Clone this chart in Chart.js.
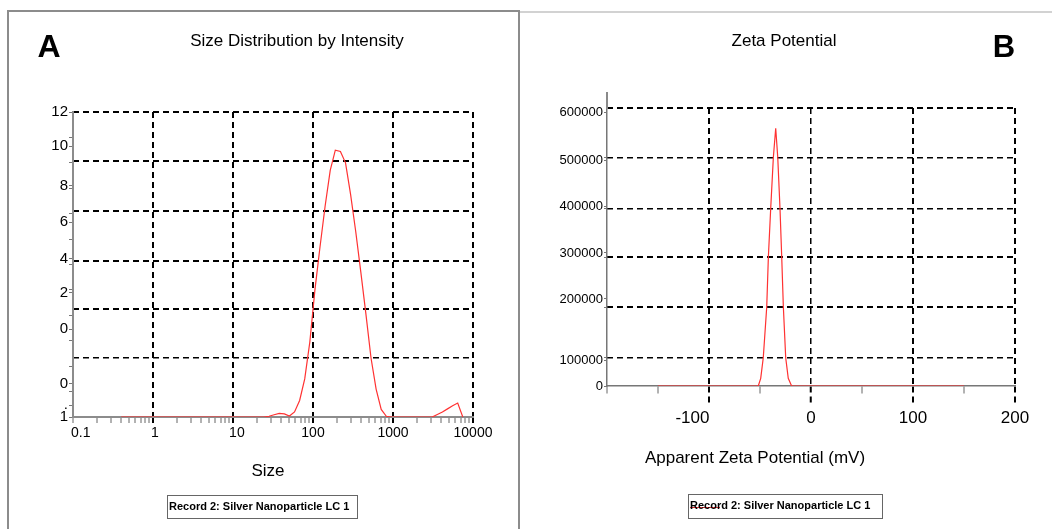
<!DOCTYPE html>
<html>
<head>
<meta charset="utf-8">
<script src="https://cdn.jsdelivr.net/npm/chart.js@4.4.1/dist/chart.umd.min.js"></script>
<style>
body { margin: 0; background: #fff; font-family: "Liberation Sans", Arial, sans-serif; }
#page { position: relative; width: 1052px; height: 529px; overflow: hidden; }
canvas { position: absolute; top: 0; }
#chartA { left: 0; }
#chartB { left: 520px; }
.txt { position: absolute; transform: translate(-50%, -50%); line-height: 1; white-space: nowrap; color: #000; }
.letter { font-weight: bold; }
#frameA { position: absolute; left: 7px; top: 10px; width: 513px; height: 540px; box-sizing: border-box; border: 2px solid #8c8c8c; }
#lineB { position: absolute; left: 520px; top: 11px; width: 532px; height: 2px; background: #d2d2d2; }
#axisTopB { position: absolute; left: 606px; top: 92px; width: 2px; height: 17px; background: #8a8a8a; }
.legend { position: absolute; box-sizing: border-box; border: 1.5px solid #666; font-weight: bold; font-size: 11px; }
.legend span { position: absolute; left: 1px; transform: translateY(-50%); line-height: 1; white-space: nowrap; }
.legend i { position: absolute; left: 1px; width: 30px; height: 1px; background: #e03030; }
</style>
</head>
<body>
<div id="page">
  <div id="frameA"></div>
  <div id="lineB"></div>
  <canvas id="chartA" width="520" height="529"></canvas>
  <canvas id="chartB" width="532" height="529"></canvas>
  <div id="axisTopB"></div>

  <div class="txt letter" style="left:49px; top:46px; font-size:32px;">A</div>
  <div class="txt letter" style="left:1004px; top:46px; font-size:31px;">B</div>
  <div class="txt" style="left:297px; top:40px; font-size:17px;">Size Distribution by Intensity</div>
  <div class="txt" style="left:784px; top:40px; font-size:17px;">Zeta Potential</div>
  <div class="txt" style="left:268px; top:470px; font-size:17px;">Size</div>
  <div class="txt" style="left:755px; top:457px; font-size:17px;">Apparent Zeta Potential (mV)</div>

  <div class="legend" style="left:167px; top:495px; width:191px; height:24px;">
    <span style="top:10px;">Record 2: Silver Nanoparticle LC 1</span>
  </div>
  <div class="legend" style="left:688px; top:494px; width:195px; height:25px;">
    <i style="top:12px;"></i>
    <span style="top:10px;">Record 2: Silver Nanoparticle LC 1</span>
  </div>
</div>

<script>
Chart.defaults.font.family = '"Liberation Sans", Arial, sans-serif';
Chart.defaults.color = "#000";

var curveColor = "rgba(255, 50, 50, 1)";
var axisColor = "#8c8c8c";
var gridColor = "#000";
var hidden = "rgba(0,0,0,0)";

//////////////////////////// A : size distribution ////////////////////////////
// size classes (nm) and intensity (%)
var sizeNm = [0.4, 24.36, 28.21, 32.67, 37.84, 43.82, 50.75, 58.77, 68.06, 78.82, 91.28,
  105.7, 122.4, 141.8, 164.2, 190.1, 220.2, 255.0, 295.3, 342.0, 396.1, 458.7, 531.2,
  615.1, 712.4, 825.0, 955.4, 3091, 3580, 4145, 4801, 5560, 6439, 7456];
var intensityPct = [0, 0, 0.03, 0.09, 0.14, 0.12, 0.04, 0.2, 0.65, 1.5, 2.95,
  5.0, 6.7, 8.3, 9.7, 10.5, 10.45, 10.0, 8.75, 7.3, 5.7, 4.05, 2.32,
  1.1, 0.3, 0.03, 0, 0, 0.1, 0.2, 0.32, 0.44, 0.55, 0];

var sizeMajorTicks = [0.1, 1, 10, 100, 1000, 10000];
// leading spaces nudge the labels right, as in the original
var sizeTickLabels = ["    0.1", " 1", "  10", "100", "1000", "10000"];

// the y labels of the original sit off the grid lines
var intensityLabelValues = [0, 0.47, 1.30, 3.46, 4.88, 6.22, 7.67, 9.09, 10.66, 12];
var intensityLabelTexts = ["1", ".", "0", "0", "2", "4", "6", "8", "10", "12"];
var intensityMinorTicks = [1, 2, 3, 4, 5, 6, 7, 8, 9, 10, 11];
var intensityGridValues = [2.32, 4.25, 6.14, 8.1, 10.07, 12];

//////////////////////////// B : zeta potential ////////////////////////////
var zetaMv = [-150, -51.7, -49.3, -46.8, -43.4, -41.8, -39.5, -36.9, -34.6, -32.6,
  -30.4, -28.7, -27.1, -24.8, -22.3, -19, 150];
var zetaCounts = [0, 0, 16600, 61000, 170500, 277800, 383500, 493600, 556200, 493600,
  383500, 277800, 170500, 61000, 16600, 0, 0];

var zetaTicks = [-200, -150, -100, -50, 0, 50, 100, 150, 200];
var zetaMajorTicks = [-100, 0, 100, 200];
var zetaTickLabels = ["-100       ", "0", "100", "200"]; // spaces push "-100" left like the original

var countLabelValues = [0, 56100, 187800, 287100, 387000, 486300, 589900];
var countLabelTexts = ["0", "100000", "200000", "300000", "400000", "500000", "600000"];
var countGridValues = [61000, 170500, 277800, 383500, 493600, 600000];

/**
 * Build {x, y} points from two arrays
 */
function toPoints(xs, ys) {
  return xs.map(function (x, i) { return { x: x, y: ys[i] }; });
}

function fixedTicks(values) {
  return function (scale) {
    scale.ticks = values.slice().sort(function (a, b) { return a - b; }).map(function (v) { return { value: v }; });
  };
}

function labelFrom(values, texts) {
  return function (value) {
    var i = values.indexOf(value);
    return i < 0 ? "" : texts[i];
  };
}

function gridOnlyAxis(position, min, max, values, thinIdx) {
  return {
    position: position, min: min, max: max,
    afterBuildTicks: fixedTicks(values),
    afterFit: function (s) { s.width = 0; },
    ticks: { display: false },
    grid: {
      color: gridColor, drawTicks: false,
      lineWidth: function (c) { return thinIdx.indexOf(c.index) >= 0 ? 1.5 : 2; }
    },
    border: { display: false, dash: [6, 4] }
  };
}

// minor ticks of the log axis, 2..9 in every decade
var sizeMinorTicks = [];
for (var d = 0.1; d < 10000; d *= 10) {
  for (var m = 2; m <= 9; m++) sizeMinorTicks.push(parseFloat((m * d).toPrecision(3)));
}

function isSizeMajor(c) { return sizeMajorTicks.indexOf(c.tick.value) > 0; }
function isZetaMajor(c) { return zetaMajorTicks.indexOf(c.tick.value) >= 0; }

new Chart(document.getElementById("chartA"), {
  type: "line",
  data: {
    datasets: [{
      data: toPoints(sizeNm, intensityPct),
      borderColor: curveColor, borderWidth: 1.2, pointRadius: 0, tension: 0, fill: false
    }]
  },
  options: {
    responsive: false, animation: false,
    layout: { padding: { left: 33, right: 47, top: 112, bottom: 52 } },
    plugins: { legend: { display: false }, tooltip: { enabled: false } },
    scales: {
      x: {
        type: "logarithmic", min: 0.1, max: 10000,
        afterBuildTicks: fixedTicks(sizeMajorTicks.concat(sizeMinorTicks)),
        afterFit: function (s) { s.height = 60; },
        ticks: { autoSkip: false, maxRotation: 0, padding: 2, font: { size: 14 },
          callback: labelFrom(sizeMajorTicks, sizeTickLabels) },
        grid: {
          color: function (c) { return isSizeMajor(c) ? gridColor : hidden; },
          tickColor: function (c) { return isSizeMajor(c) ? gridColor : "#666"; },
          lineWidth: 2,
          tickWidth: function (c) { return isSizeMajor(c) ? 2 : 1; },
          tickBorderDash: function (c) { return isSizeMajor(c) ? [6, 4] : []; },
          tickLength: 6
        },
        border: { color: axisColor, width: 2,
          dash: function (c) { return isSizeMajor(c) ? [6, 4] : []; } }
      },
      y: {
        min: 0, max: 12,
        afterBuildTicks: fixedTicks(intensityLabelValues.concat(intensityMinorTicks)),
        afterFit: function (s) { s.width = 40; },
        ticks: { autoSkip: false, padding: 1, font: { size: 15 },
          callback: labelFrom(intensityLabelValues, intensityLabelTexts) },
        grid: { drawOnChartArea: false, tickColor: "#777", tickLength: 4, tickWidth: 1 },
        border: { color: axisColor, width: 2 }
      },
      yg: gridOnlyAxis("right", 0, 12, intensityGridValues, [0])
    }
  }
});

new Chart(document.getElementById("chartB"), {
  type: "line",
  data: {
    datasets: [{
      data: toPoints(zetaMv, zetaCounts),
      borderColor: curveColor, borderWidth: 1.2, pointRadius: 0, tension: 0, fill: false
    }]
  },
  options: {
    responsive: false, animation: false,
    layout: { padding: { left: 37, right: 37, top: 108, bottom: 83 } },
    plugins: { legend: { display: false }, tooltip: { enabled: false } },
    scales: {
      x: {
        type: "linear", min: -200, max: 200,
        afterBuildTicks: fixedTicks(zetaTicks),
        afterFit: function (s) { s.height = 60; },
        ticks: { autoSkip: false, maxRotation: 0, padding: 5, font: { size: 17 },
          callback: labelFrom(zetaMajorTicks, zetaTickLabels) },
        grid: {
          color: function (c) { return isZetaMajor(c) ? gridColor : hidden; },
          tickColor: function (c) { return isZetaMajor(c) ? gridColor : "#666"; },
          lineWidth: function (c) { return c.tick.value === 0 ? 1.5 : 2; },
          tickWidth: function (c) { return isZetaMajor(c) ? 2 : 1; },
          tickBorderDash: function (c) { return isZetaMajor(c) ? [6, 4] : [7, 100]; },
          tickLength: 17
        },
        border: { color: "#777", width: 1.5,
          dash: function (c) { return isZetaMajor(c) ? [6, 4] : []; } }
      },
      y: {
        min: 0, max: 600000,
        afterBuildTicks: fixedTicks(countLabelValues.concat(countGridValues.slice(0, 5))),
        afterFit: function (s) { s.width = 50; },
        ticks: { autoSkip: false, padding: 1, font: { size: 13 },
          callback: labelFrom(countLabelValues, countLabelTexts) },
        grid: { drawOnChartArea: false, tickColor: "#777", tickLength: 3, tickWidth: 1 },
        border: { color: "#777", width: 1.5 }
      },
      yg: gridOnlyAxis("right", 0, 600000, countGridValues, [0, 3, 4])
    }
  }
});
</script>
</body>
</html>
